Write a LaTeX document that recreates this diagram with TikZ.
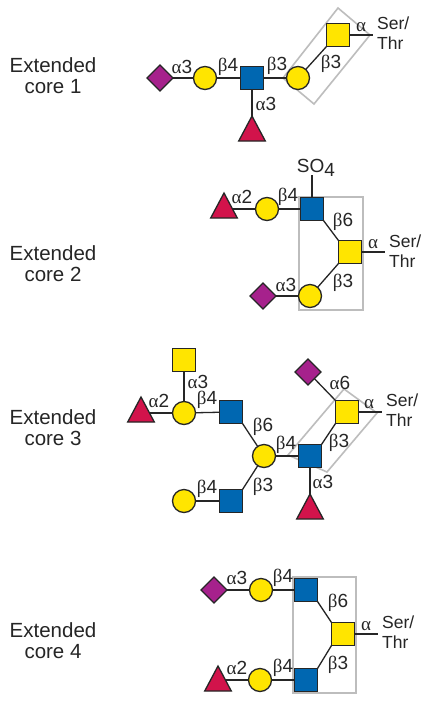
\documentclass[tikz,border=0pt]{standalone}
\usepackage{fontspec}
\setmainfont{Liberation Sans}
\newfontfamily\grk{Liberation Serif}
\usetikzlibrary{shapes.geometric,backgrounds}
\definecolor{gyel}{HTML}{FFE500}
\definecolor{gblu}{HTML}{0067B1}
\definecolor{gred}{HTML}{D2134B}
\definecolor{gpur}{HTML}{A6218C}
\definecolor{ggry}{HTML}{BDBDBD}
\newcommand{\al}{{\grk α}}
\newcommand{\be}{{\grk β}}
\tikzset{
  every node/.style={text=black!85},
  sug/.style={draw=black!85,line width=1.3pt,inner sep=0pt,outer sep=0pt},
  ysq/.style={sug,rectangle,fill=gyel,minimum size=23pt},
  bsq/.style={sug,rectangle,fill=gblu,minimum size=23pt},
  ycirc/.style={sug,circle,fill=gyel,minimum size=23pt},
  pdia/.style={sug,diamond,fill=gpur,minimum size=26pt},
  rtri/.style={sug,isosceles triangle,isosceles triangle apex angle=56,shape border rotate=90,fill=gred,minimum height=25pt,anchor=apex},
  lnk/.style={black!85,line width=1.3pt},
  frame/.style={ggry,line width=1.6pt,line join=miter},
  lab/.style={font=\fontsize{19}{20}\selectfont,inner sep=0pt},
  ser/.style={font=\fontsize{17.5}{20}\selectfont,inner sep=0pt,align=left,anchor=west},
  core/.style={font=\fontsize{20.5}{21}\selectfont,inner sep=0pt,align=center}
}
\begin{document}
\begin{tikzpicture}[x=1pt,y=-1pt]
\useasboundingbox (0,0) rectangle (435,705);
% left labels
\node[core] (L1) at (53,75.5) {Extended\\core 1};
\node[core] (L2) at (53,263.5) {Extended\\core 2};
\node[core] (L3) at (53,427.5) {Extended\\core 3};
\node[core] (L4) at (53,640.5) {Extended\\core 4};
% panel 1
\node[pdia] (a1) at (160,78) {};
\node[ycirc] (a2) at (205,78) {};
\node[bsq] (a3) at (252,78) {};
\node[ycirc] (a4) at (298,78) {};
\node[ysq] (a5) at (338,35) {};
\node[rtri] (a6) at (252,116) {};
\coordinate (ae) at (373,35);
\coordinate (af1) at (338,8); \coordinate (af2) at (370,35);
\coordinate (af3) at (314,104); \coordinate (af4) at (283,78);
\node[ser] (as) at (377,33) {Ser/\\Thr};
\node[lab] at (182,67) {\al3};
\node[lab] at (228,67) {\be4};
\node[lab] at (277,66) {\be3};
\node[lab] at (331,64) {\be3};
\node[lab] at (361,27) {\al};
\node[lab] at (266,104) {\al3};
% panel 2
\node[rtri] (b1) at (224,193) {};
\node[ycirc] (b2) at (267,209) {};
\node[bsq] (b3) at (312,209) {};
\node[ysq] (b4) at (350,252) {};
\node[ycirc] (b5) at (310,296) {};
\node[pdia] (b6) at (263,296) {};
\node[lab,font=\fontsize{19}{20}\selectfont] (so) at (316,168) {SO\raisebox{-4pt}{4}};
\coordinate (bt) at (312,175);
\coordinate (be) at (385,252);
\coordinate (bf1) at (299,197); \coordinate (bf2) at (363,310);
\node[ser] (bs) at (389,251) {Ser/\\Thr};
\node[lab] at (242,197) {\al2};
\node[lab] at (288,197) {\be4};
\node[lab] at (343,222) {\be6};
\node[lab] at (373,244) {\al};
\node[lab] at (343,283) {\be3};
\node[lab] at (286,285) {\al3};
% panel 3
\node[ysq] (c1) at (184,360) {};
\node[rtri] (c2) at (141,397) {};
\node[ycirc] (c3) at (184,413) {};
\node[bsq] (c4) at (231,412) {};
\node[ycirc] (c5) at (264,456) {};
\node[bsq] (c6) at (231,501) {};
\node[ycirc] (c7) at (184,501) {};
\node[bsq] (c8) at (310,456) {};
\node[ysq] (c9) at (347,412) {};
\node[pdia] (c10) at (308,372) {};
\node[rtri] (c11) at (310,494) {};
\coordinate (ce) at (382,412);
\coordinate (cf1) at (344,389); \coordinate (cf2) at (377,413);
\coordinate (cf3) at (327,472); \coordinate (cf4) at (288,455);
\node[ser] (cs) at (386,410.5) {Ser/\\Thr};
\node[lab] at (198,382) {\al3};
\node[lab] at (159,401) {\al2};
\node[lab] at (207,400) {\be4};
\node[lab] at (263,427) {\be6};
\node[lab] at (286,445) {\be4};
\node[lab] at (340,383) {\al6};
\node[lab] at (369,404) {\al};
\node[lab] at (339,443) {\be3};
\node[lab] at (323,482) {\al3};
\node[lab] at (263,487) {\be3};
\node[lab] at (207,489) {\be4};
% panel 4
\node[pdia] (d1) at (214,590) {};
\node[ycirc] (d2) at (261,590) {};
\node[bsq] (d3) at (306,590) {};
\node[ysq] (d4) at (343,634) {};
\node[bsq] (d5) at (306,680) {};
\node[ycirc] (d6) at (260,680) {};
\node[rtri] (d7) at (218,666) {};
\coordinate (de) at (378,634);
\coordinate (df1) at (293,577); \coordinate (df2) at (356,693);
\node[ser] (ds) at (382,632) {Ser/\\Thr};
\node[lab] at (237,578) {\al3};
\node[lab] at (283,578) {\be4};
\node[lab] at (338,603) {\be6};
\node[lab] at (366,626) {\al};
\node[lab] at (338,665) {\be3};
\node[lab] at (237,668) {\al2};
\node[lab] at (283,668) {\be4};
\begin{pgfonlayer}{background}
  \fill[white] (0,0) rectangle (435,705);
  \draw[frame] (af1) -- (af2) -- (af3) -- (af4) -- cycle;
  \draw[frame] (bf1) rectangle (bf2);
  \draw[frame] (cf1) -- (cf2) -- (cf3) -- (cf4) -- cycle;
  \draw[frame] (df1) rectangle (df2);
  \draw[lnk] (a1.center) -- (a2.center);
  \draw[lnk] (a2.center) -- (a3.center);
  \draw[lnk] (a3.center) -- (a4.center);
  \draw[lnk] (a4.center) -- (a5.south west);
  \draw[lnk] (a5.center) -- (ae);
  \draw[lnk] (a3.center) -- (a6.apex);
  \draw[lnk] (b2.center) -- (b2.center -| b1.center);
  \draw[lnk] (b2.center) -- (b3.center);
  \draw[lnk] (b3.center) -- (bt);
  \draw[lnk] (b3.south east) -- (b4.north west);
  \draw[lnk] (b5.center) -- (b4.south west);
  \draw[lnk] (b6.center) -- (b5.center);
  \draw[lnk] (b4.center) -- (be);
  \draw[lnk] (c1.center) -- (c3.center);
  \draw[lnk] (c3.center) -- (c3.center -| c2.center);
  \draw[lnk] (c3.center) -- (c4.center);
  \draw[lnk] (c4.south east) -- (c5.center);
  \draw[lnk] (c5.center) -- (c6.north east);
  \draw[lnk] (c6.center) -- (c7.center);
  \draw[lnk] (c5.center) -- (c8.center);
  \draw[lnk] (c8.north east) -- (c9.south west);
  \draw[lnk] (c10.center) -- (c9.north west);
  \draw[lnk] (c8.center) -- (c11.apex);
  \draw[lnk] (c9.center) -- (ce);
  \draw[lnk] (d1.center) -- (d2.center);
  \draw[lnk] (d2.center) -- (d3.center);
  \draw[lnk] (d3.south east) -- (d4.north west);
  \draw[lnk] (d5.north east) -- (d4.south west);
  \draw[lnk] (d5.center) -- (d6.center);
  \draw[lnk] (d6.center) -- (d6.center -| d7.center);
  \draw[lnk] (d4.center) -- (de);
\end{pgfonlayer}
\end{tikzpicture}
\end{document}
